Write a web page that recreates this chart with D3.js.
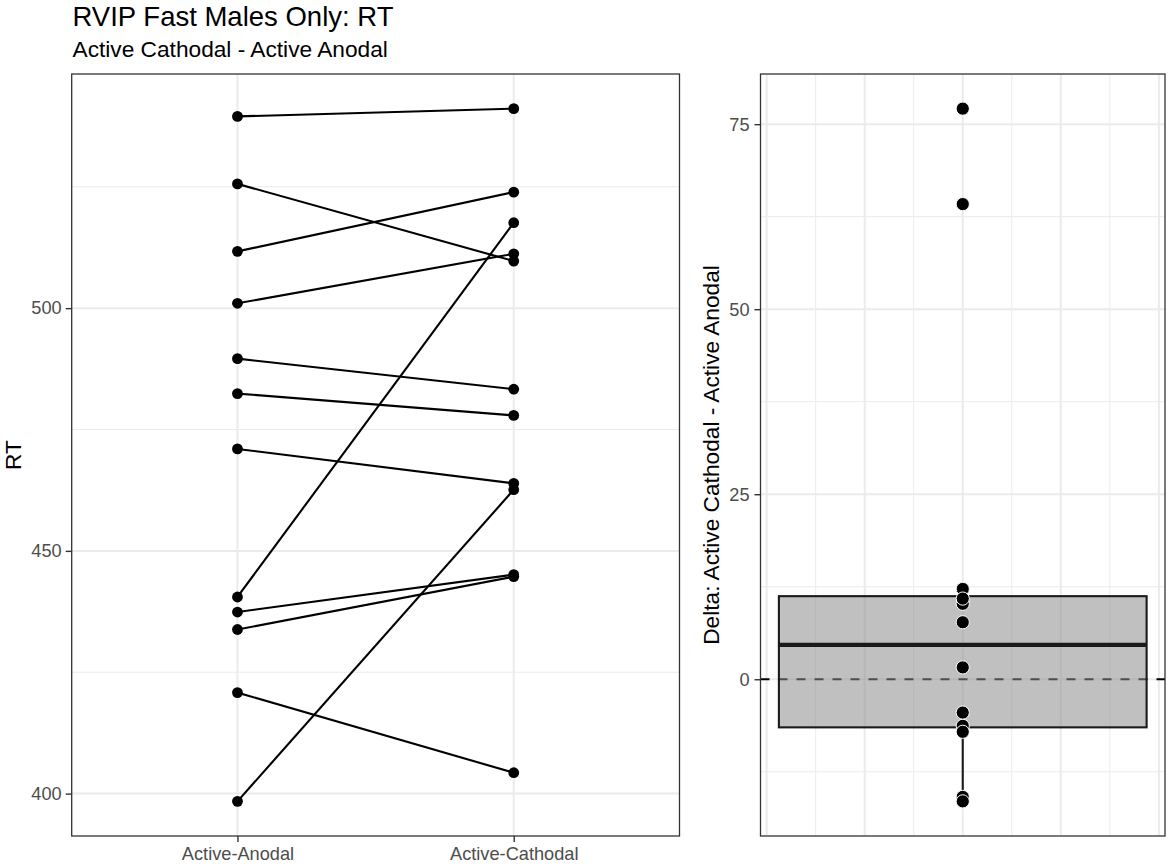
<!DOCTYPE html>
<html>
<head>
<meta charset="utf-8">
<script src="https://cdn.jsdelivr.net/npm/d3@7"></script>
<style>
  html, body { margin: 0; padding: 0; background: #ffffff; }
  svg { display: block; font-family: "Liberation Sans", Arial, Helvetica, sans-serif; }
</style>
</head>
<body>
<svg id="chart" width="1170" height="864"></svg>
<script>
// ---------- data ----------
const conditions = ["Active-Anodal", "Active-Cathodal"];
const anodalRT   = [539.5, 525.6, 511.7, 501.0, 489.6, 482.4, 471.0, 440.5, 437.4, 433.8, 420.8, 398.4];
const cathodalRT = [541.1, 509.7, 523.9, 511.2, 483.3, 477.9, 463.9, 517.6, 445.1, 444.7, 404.3, 462.6];

const leftMajorTicks  = [400, 450, 500];
const leftMinorTicks  = [425, 475, 525];
const rightMajorTicks = [0, 25, 50, 75];
const rightMinorTicks = [-12.5, 12.5, 37.5, 62.5];
const rightXMajor     = [-0.4, -0.2, 0, 0.2, 0.4];
const rightXMinor     = [-0.3, -0.1, 0.1, 0.3];

const titleText    = "RVIP Fast Males Only: RT";
const subtitleText = "Active Cathodal - Active Anodal";
const leftYLabel   = "RT";
const rightYLabel  = "Delta: Active Cathodal - Active Anodal";

// delta per subject (Cathodal - Anodal)
const deltas = anodalRT.map((a, i) => cathodalRT[i] - a);

// ---------- layout ----------
const svg = d3.select("#chart");
const L = { x0: 71.7, x1: 679.5, y0: 74, y1: 836 };
const R = { x0: 760.5, x1: 1165, y0: 74, y1: 836 };
const gridCol = "#EBEBEB";
const inkCol = "#333333";
const tickTextCol = "#4D4D4D";
const tickFont = "18.2px";

svg.append("rect").attr("width", 1170).attr("height", 864).attr("fill", "#fff");

// title / subtitle
svg.append("text").attr("x", 72.5).attr("y", 26).attr("font-size", "27.5px").attr("fill", "#000").text(titleText);
svg.append("text").attr("x", 72.5).attr("y", 57).attr("font-size", "22.7px").attr("fill", "#000").text(subtitleText);

// expansion like ggplot (5%)
function expand(ext, f) { const d = ext[1] - ext[0]; return [ext[0] - d * f, ext[1] + d * f]; }

// ---------- LEFT PANEL ----------
const allRT = anodalRT.concat(cathodalRT);
const yL = d3.scaleLinear().domain(expand(d3.extent(allRT), 0.05)).range([L.y1, L.y0]);
const xL = d3.scalePoint().domain(conditions).range([L.x0, L.x1]).padding(0.6);

const gL = svg.append("g");
// grid
gL.selectAll(".minY").data(leftMinorTicks).enter().append("line")
  .attr("x1", L.x0).attr("x2", L.x1).attr("y1", d => yL(d)).attr("y2", d => yL(d))
  .attr("stroke", gridCol).attr("stroke-width", 1);
gL.selectAll(".majY").data(leftMajorTicks).enter().append("line")
  .attr("x1", L.x0).attr("x2", L.x1).attr("y1", d => yL(d)).attr("y2", d => yL(d))
  .attr("stroke", gridCol).attr("stroke-width", 2);
gL.selectAll(".majX").data(conditions).enter().append("line")
  .attr("x1", d => xL(d)).attr("x2", d => xL(d)).attr("y1", L.y0).attr("y2", L.y1)
  .attr("stroke", gridCol).attr("stroke-width", 2);

// paired lines
const pairs = anodalRT.map((a, i) => [[conditions[0], a], [conditions[1], cathodalRT[i]]]);
const lineGen = d3.line().x(d => xL(d[0])).y(d => yL(d[1]));
gL.selectAll(".pair").data(pairs).enter().append("path")
  .attr("d", lineGen).attr("fill", "none").attr("stroke", "#000").attr("stroke-width", 2.1);
// points
const ptsL = [];
anodalRT.forEach(v => ptsL.push([conditions[0], v]));
cathodalRT.forEach(v => ptsL.push([conditions[1], v]));
gL.selectAll(".pt").data(ptsL).enter().append("circle")
  .attr("cx", d => xL(d[0])).attr("cy", d => yL(d[1])).attr("r", 5.4).attr("fill", "#000");

// border
gL.append("rect").attr("x", L.x0).attr("y", L.y0).attr("width", L.x1 - L.x0).attr("height", L.y1 - L.y0)
  .attr("fill", "none").attr("stroke", inkCol).attr("stroke-width", 1.3);

// axes
function styleAxis(g) {
  g.select(".domain").remove();
  g.selectAll(".tick line").attr("stroke", inkCol).attr("stroke-width", 1.4);
  g.selectAll(".tick text").attr("fill", tickTextCol).attr("font-size", tickFont)
    .attr("font-family", "'Liberation Sans', Arial, Helvetica, sans-serif");
}
svg.append("g").attr("transform", `translate(${L.x0},0)`)
  .call(d3.axisLeft(yL).tickValues(leftMajorTicks).tickSize(6).tickPadding(4))
  .call(styleAxis);
svg.append("g").attr("transform", `translate(0,${L.y1})`)
  .call(d3.axisBottom(xL).tickSize(6).tickPadding(5))
  .call(styleAxis);

svg.append("text").attr("transform", `translate(21,${(L.y0 + L.y1) / 2}) rotate(-90)`)
  .attr("text-anchor", "middle").attr("font-size", "22.7px").attr("fill", "#000").text(leftYLabel);

// ---------- RIGHT PANEL ----------
const yR = d3.scaleLinear().domain(expand(d3.extent(deltas), 0.05)).range([R.y1, R.y0]);
const boxHalf = 0.375;
const xR = d3.scaleLinear().domain(expand([-boxHalf, boxHalf], 0.05)).range([R.x0, R.x1]);

const gR = svg.append("g");
gR.selectAll(".minY").data(rightMinorTicks).enter().append("line")
  .attr("x1", R.x0).attr("x2", R.x1).attr("y1", d => yR(d)).attr("y2", d => yR(d))
  .attr("stroke", gridCol).attr("stroke-width", 1);
gR.selectAll(".minX").data(rightXMinor).enter().append("line")
  .attr("x1", d => xR(d)).attr("x2", d => xR(d)).attr("y1", R.y0).attr("y2", R.y1)
  .attr("stroke", gridCol).attr("stroke-width", 1);
gR.selectAll(".majY").data(rightMajorTicks).enter().append("line")
  .attr("x1", R.x0).attr("x2", R.x1).attr("y1", d => yR(d)).attr("y2", d => yR(d))
  .attr("stroke", gridCol).attr("stroke-width", 2);
gR.selectAll(".majX").data(rightXMajor).enter().append("line")
  .attr("x1", d => xR(d)).attr("x2", d => xR(d)).attr("y1", R.y0).attr("y2", R.y1)
  .attr("stroke", gridCol).attr("stroke-width", 2);

// zero reference line (dashed)
gR.append("line").attr("x1", R.x0).attr("x2", R.x1).attr("y1", yR(0)).attr("y2", yR(0))
  .attr("stroke", "#000").attr("stroke-width", 2.2).attr("stroke-dasharray", "9,9");

// box stats
const sorted = deltas.slice().sort(d3.ascending);
const q1 = d3.quantile(sorted, 0.25), med = d3.quantile(sorted, 0.5), q3 = d3.quantile(sorted, 0.75);
const iqr = q3 - q1;
const loW = d3.min(sorted.filter(v => v >= q1 - 1.5 * iqr));
const hiW = d3.max(sorted.filter(v => v <= q3 + 1.5 * iqr));

gR.append("line").attr("x1", xR(0)).attr("x2", xR(0)).attr("y1", yR(q1)).attr("y2", yR(loW))
  .attr("stroke", "#1a1a1a").attr("stroke-width", 2.1);
gR.append("line").attr("x1", xR(0)).attr("x2", xR(0)).attr("y1", yR(q3)).attr("y2", yR(hiW))
  .attr("stroke", "#1a1a1a").attr("stroke-width", 2.1);
gR.append("rect").attr("x", xR(-boxHalf)).attr("y", yR(q3))
  .attr("width", xR(boxHalf) - xR(-boxHalf)).attr("height", yR(q1) - yR(q3))
  .attr("fill", "#8c8c8c").attr("fill-opacity", 0.55)
  .attr("stroke", "#1a1a1a").attr("stroke-width", 2.1);
gR.append("line").attr("x1", xR(-boxHalf)).attr("x2", xR(boxHalf)).attr("y1", yR(med)).attr("y2", yR(med))
  .attr("stroke", "#1a1a1a").attr("stroke-width", 4.2);

// points
gR.selectAll(".dpt").data(deltas).enter().append("circle")
  .attr("cx", xR(0)).attr("cy", d => yR(d)).attr("r", 6.6)
  .attr("fill", "#000").attr("stroke", "#fff").attr("stroke-width", 1);

gR.append("rect").attr("x", R.x0).attr("y", R.y0).attr("width", R.x1 - R.x0).attr("height", R.y1 - R.y0)
  .attr("fill", "none").attr("stroke", inkCol).attr("stroke-width", 1.3);

svg.append("g").attr("transform", `translate(${R.x0},0)`)
  .call(d3.axisLeft(yR).tickValues(rightMajorTicks).tickSize(6).tickPadding(5))
  .call(styleAxis);

svg.append("text").attr("transform", `translate(719,${(R.y0 + R.y1) / 2}) rotate(-90)`)
  .attr("text-anchor", "middle").attr("font-size", "22.7px").attr("fill", "#000").text(rightYLabel);
</script>
</body>
</html>
